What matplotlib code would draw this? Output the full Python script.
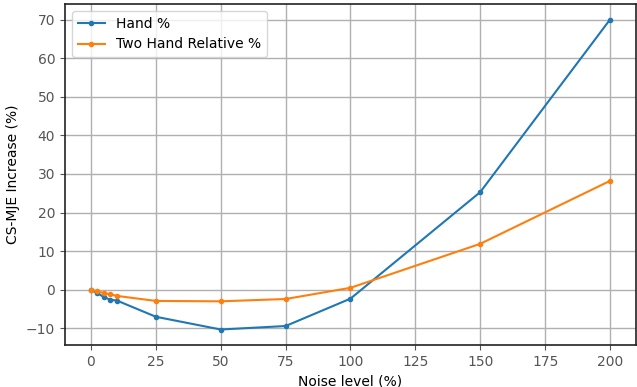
import matplotlib
matplotlib.use("Agg")
import matplotlib.pyplot as plt

# Noise levels and CS-MJE increase
noise = [0, 2.5, 5, 7.5, 10, 25, 50, 75, 100, 150, 200]
hand_pct = [0.0, -0.9, -1.9, -2.6, -2.8, -7.0, -10.3, -9.4, -2.3, 25.3, 70.0]
two_hand_rel_pct = [0.0, -0.4, -0.9, -1.2, -1.6, -2.9, -3.0, -2.4, 0.5, 11.9, 28.2]

fig = plt.figure(figsize=(6.37, 3.87), dpi=100)
ax = fig.add_axes([65 / 637, 42 / 387, 571 / 637, 341 / 387])

ax.plot(noise, hand_pct, marker="o", markersize=3, linewidth=1.5,
        color="#1f77b4", label="Hand %")
ax.plot(noise, two_hand_rel_pct, marker="o", markersize=3, linewidth=1.5,
        color="#ff7f0e", label="Two Hand Relative %")

ax.grid(True, color="#b0b0b0", linewidth=1)
ax.set_axisbelow(True)
ax.set_xticks([0, 25, 50, 75, 100, 125, 150, 175, 200])
ax.set_yticks([-10, 0, 10, 20, 30, 40, 50, 60, 70])
ax.tick_params(colors="#555555", labelsize=10, labelcolor="#555555")
for s in ax.spines.values():
    s.set_color("#222222")
    s.set_linewidth(1.2)

ax.set_xlabel("Noise level (%)", fontsize=10)
ax.set_ylabel("CS-MJE Increase (%)", fontsize=10)
ax.legend(loc="upper left", fontsize=10)

fig.savefig("out.png", dpi=100)
